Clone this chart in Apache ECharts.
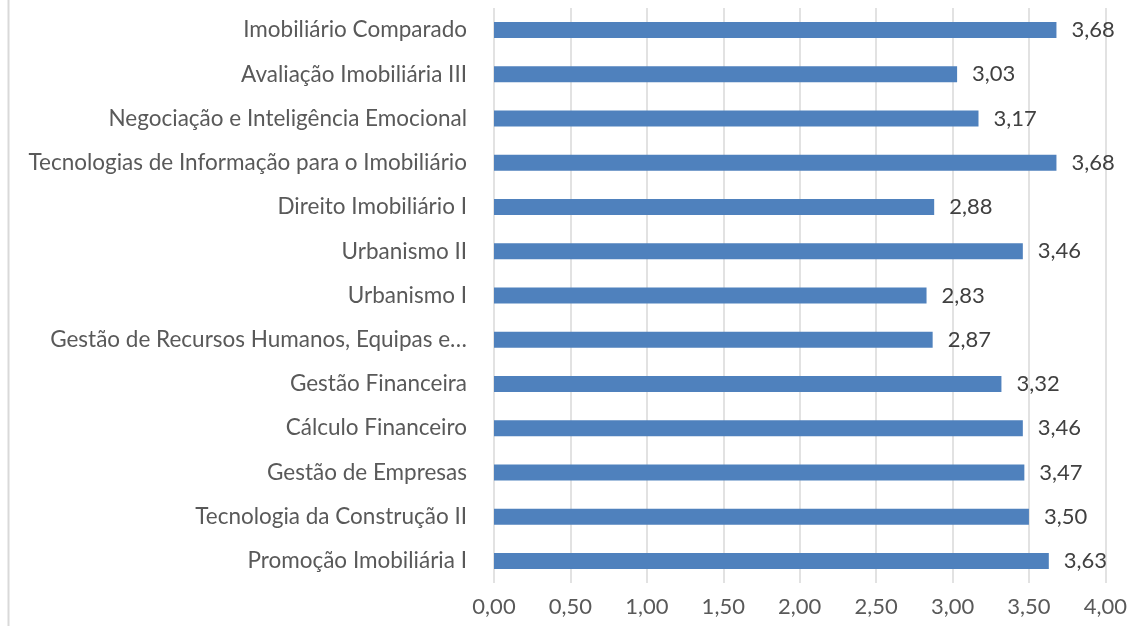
<!DOCTYPE html>
<html>
<head>
<meta charset="utf-8">
<script src="https://cdn.jsdelivr.net/npm/echarts@6/dist/echarts.min.js"></script>
<style>
  html, body { margin: 0; padding: 0; background: #fff; }
  #chart { width: 1130px; height: 626px; }
</style>
</head>
<body>
<div id="chart"></div>
<script>
// disciplinas, de cima para baixo
const categories = [
  "Imobiliário Comparado",
  "Avaliação Imobiliária III",
  "Negociação e Inteligência Emocional",
  "Tecnologias de Informação para o Imobiliário",
  "Direito Imobiliário I",
  "Urbanismo II",
  "Urbanismo I",
  "Gestão de Recursos Humanos, Equipas e…",
  "Gestão Financeira",
  "Cálculo Financeiro",
  "Gestão de Empresas",
  "Tecnologia da Construção II",
  "Promoção Imobiliária I"
];
const values = [3.68, 3.03, 3.17, 3.68, 2.88, 3.46, 2.83, 2.87, 3.32, 3.46, 3.47, 3.50, 3.63];

const fmt = (v) => v.toFixed(2).replace(".", ",");

const myChart = echarts.init(document.getElementById("chart"));
const option = {
  animation: false,
  textStyle: { fontFamily: "Lato" },
  grid: {
    top: 8,
    left: 494,
    right: 22,
    bottom: 43
  },
  xAxis: {
    type: "value",
    min: 0,
    max: 4,
    interval: 0.5,
    axisLine: { show: false },
    axisTick: { show: false },
    axisLabel: {
      color: "#595959",
      fontSize: 22,
      margin: 13,
      formatter: (v) => fmt(v)
    },
    splitLine: {
      lineStyle: { color: "#d9d9d9", width: 1.5 }
    }
  },
  yAxis: {
    type: "category",
    inverse: true,
    data: categories,
    axisLine: { show: false },
    axisTick: { show: false },
    axisLabel: {
      color: "#595959",
      fontSize: 22.5,
      margin: 27
    }
  },
  series: [
    {
      type: "bar",
      data: values,
      barWidth: 16,
      itemStyle: { color: "#4f81bd" },
      label: {
        show: true,
        position: "right",
        distance: 15,
        color: "#404040",
        fontSize: 22,
        fontFamily: "Lato",
        formatter: (p) => fmt(p.value)
      }
    }
  ],
  graphic: [
    {
      type: "line",
      shape: { x1: 8.5, y1: 0, x2: 8.5, y2: 626 },
      style: { stroke: "#d9d9d9", lineWidth: 2 }
    }
  ]
};
myChart.setOption(option);
</script>
</body>
</html>
